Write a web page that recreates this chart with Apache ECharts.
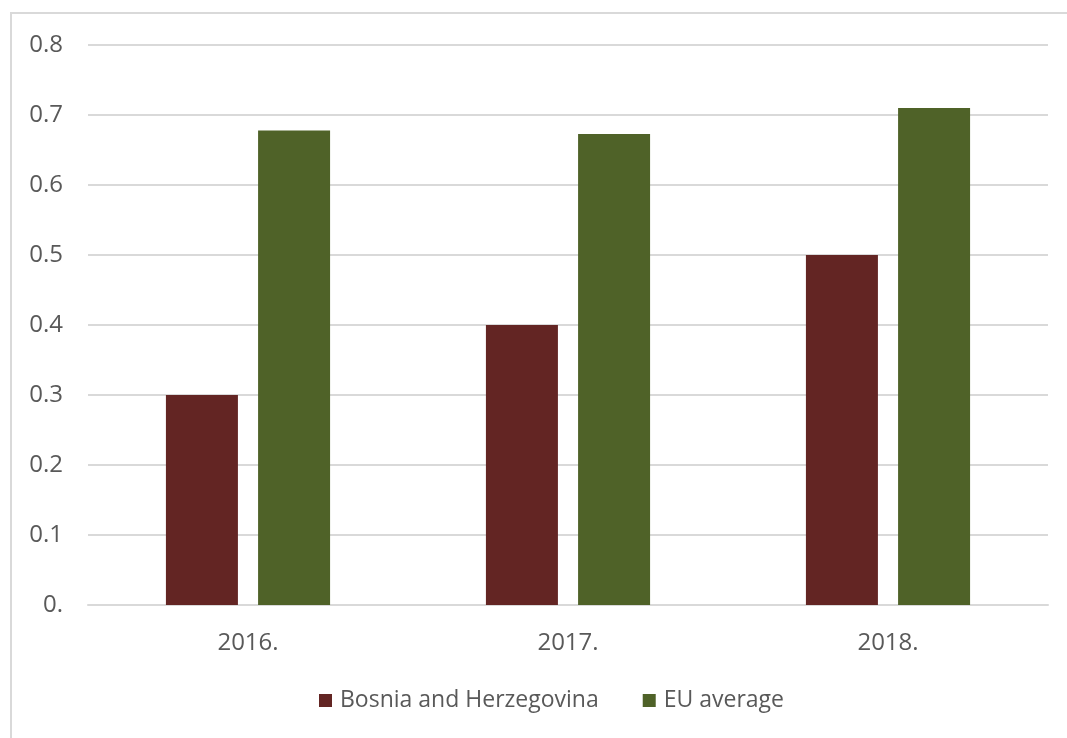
<!DOCTYPE html>
<html>
<head>
<meta charset="utf-8">
<script src="https://cdn.jsdelivr.net/npm/echarts@6/dist/echarts.min.js"></script>
<style>
  html, body { margin: 0; padding: 0; background: #fff; }
  #wrap { position: relative; width: 1067px; height: 738px; }
  #chart { width: 1067px; height: 738px; }
  #frame {
    position: absolute; left: 10px; top: 12px; right: -4px; bottom: -4px;
    border-top: 2px solid #d9d9d9; border-left: 2px solid #d9d9d9;
    pointer-events: none;
  }
</style>
</head>
<body>
<div id="wrap">
  <div id="chart"></div>
  <div id="frame"></div>
</div>
<script>
const years = ['2016.', '2017.', '2018.']
const bosnia = [0.3, 0.4, 0.5]
const euAverage = [0.678, 0.673, 0.71]

const textColor = '#595959'
const font = 'Open Sans'

const chart = echarts.init(document.getElementById('chart'))
chart.setOption({
  backgroundColor: '#fff',
  animation: false,
  grid: { left: 88, right: 19, top: 45, bottom: 133 },
  legend: {
    bottom: 21,
    left: 314,
    itemWidth: 13,
    itemHeight: 13,
    itemGap: 44,
    icon: 'rect',
    textStyle: { color: textColor, fontSize: 23, fontFamily: font, padding: [0, 0, 0, 3] },
    data: ['Bosnia and Herzegovina', 'EU average'],
  },
  xAxis: {
    type: 'category',
    data: years,
    axisLine: { lineStyle: { color: '#d9d9d9', width: 2 } },
    axisTick: { show: false },
    axisLabel: { color: textColor, fontSize: 24, fontFamily: font, margin: 26 },
  },
  yAxis: {
    type: 'value',
    min: 0,
    max: 0.8,
    interval: 0.1,
    axisLine: { show: false },
    axisTick: { show: false },
    splitLine: { lineStyle: { color: '#d9d9d9', width: 2 } },
    axisLabel: {
      color: textColor,
      fontSize: 24,
      fontFamily: font,
      margin: 25,
      formatter: (v) => (v === 0 ? '0.' : v.toFixed(1)),
    },
  },
  series: [
    {
      name: 'Bosnia and Herzegovina',
      type: 'bar',
      data: bosnia,
      barWidth: 72,
      barGap: '28%',
      itemStyle: { color: '#632523' },
    },
    {
      name: 'EU average',
      type: 'bar',
      data: euAverage,
      barWidth: 72,
      itemStyle: { color: '#4f6228' },
    },
  ],
})
</script>
</body>
</html>
